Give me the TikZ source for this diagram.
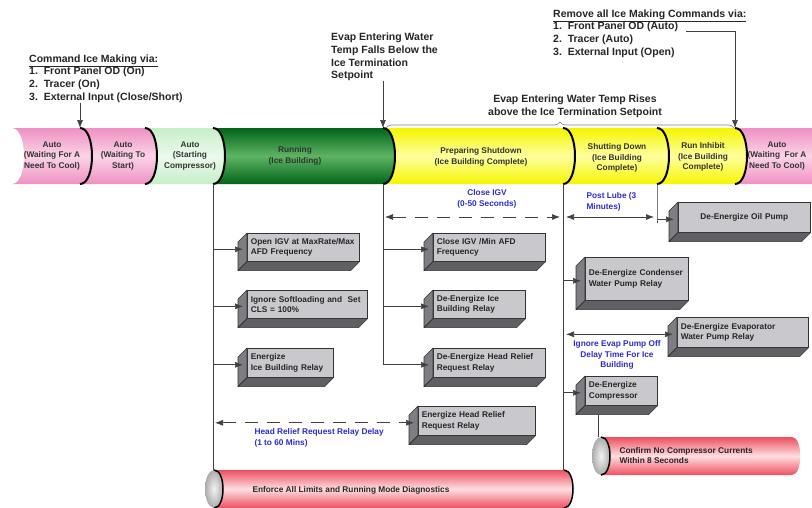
\documentclass[tikz,border=0pt]{standalone}
\usepackage{fontspec}
\setmainfont{Liberation Sans}
\usetikzlibrary{arrows.meta,decorations.pathreplacing}

\definecolor{pinkedge}{RGB}{238,145,195}
\definecolor{pinkmid}{RGB}{251,212,230}
\definecolor{lgreenedge}{RGB}{198,238,200}
\definecolor{lgreenmid}{RGB}{236,250,236}
\definecolor{dgreenedge}{RGB}{0,100,25}
\definecolor{dgreenmid}{RGB}{95,180,100}
\definecolor{yellowedge}{RGB}{245,245,0}
\definecolor{yellowmid}{RGB}{255,255,160}
\definecolor{rededge}{RGB}{236,80,95}
\definecolor{redmid}{RGB}{255,222,226}
\definecolor{facegray}{RGB}{200,200,205}
\definecolor{sidegray}{RGB}{125,125,130}
\definecolor{basegray}{RGB}{95,95,100}
\definecolor{lblblue}{RGB}{45,45,200}

\newcommand\smallbf{\fontsize{8.3}{10.5}\selectfont\bfseries}
\newcommand\notebf{\fontsize{10.5}{12.7}\selectfont\bfseries}

% one piece of the state band, between two dividers
\newcommand\bandpiece[4]{%
  \shade[top color=#3, bottom color=#3, middle color=#4]
    (#1,128) -- (#2,128) .. controls (#2+16,128) and (#2+16,184) .. (#2,184)
    -- (#1,184) .. controls (#1+16,184) and (#1+16,128) .. (#1,128) -- cycle;}

% gray side and bottom of a box
\newcommand\boxdepth[1]{%
  \filldraw[fill=sidegray, draw=black!80, line width=0.6pt, line join=round]
    (#1.north west) -- ++(-9,9) -- ([shift={(-9,9)}]#1.south west) -- (#1.south west) -- cycle;
  \filldraw[fill=basegray, draw=black!80, line width=0.6pt, line join=round]
    (#1.south west) -- ++(-9,9) -- ([shift={(-9,9)}]#1.south east) -- (#1.south east) -- cycle;}

% red pipe with an open gray end on the left
\newcommand\pipebody[4]{%
  \shade[top color=rededge, bottom color=rededge, middle color=redmid]
    (#1,#3) -- (#2,#3) .. controls (#2+11,#3) and (#2+11,#4) .. (#2,#4) -- (#1,#4) -- cycle;
  \shade[inner color=gray!10, outer color=gray!65] (#1,{(#3+#4)/2}) ellipse [x radius=9, y radius={(#4-#3)/2}];
  \draw[line width=1.5pt] (#1,#3) .. controls (#1+12,#3) and (#1+12,#4) .. (#1,#4);}

\begin{document}
\begin{tikzpicture}[x=1pt, y=-1pt,
  conn/.style={draw=black!75, line width=0.7pt},
  arr/.style={conn, -{Latex[length=8pt,width=6pt]}},
  darr/.style={conn, {Latex[length=8pt,width=6pt]}-{Latex[length=8pt,width=6pt]}},
  dasharr/.style={darr, dash pattern=on 13pt off 9pt},
  boxface/.style={draw=black!80, line width=0.6pt, fill=facegray, anchor=north west,
    inner xsep=3.5pt, inner ysep=1pt, align=left, font=\smallbf, text=black!85},
  bandtext/.style={font=\smallbf, align=center, text=black!80},
  bluetext/.style={font=\smallbf, text=lblblue},
  note/.style={font=\notebf, text=black!85, align=left, inner sep=0pt},
  divider/.style={line width=2pt, black}]

\fill[white] (0,0) rectangle (812,507);
\useasboundingbox (0,0) rectangle (812,507);

% state band
\bandpiece{12}{80}{pinkedge}{pinkmid}
\bandpiece{80}{145}{pinkedge}{pinkmid}
\bandpiece{145}{213}{lgreenedge}{lgreenmid}
\bandpiece{213}{383}{dgreenedge}{dgreenmid}
\bandpiece{383}{563}{yellowedge}{yellowmid}
\bandpiece{563}{657}{yellowedge}{yellowmid}
\bandpiece{657}{735}{yellowedge}{yellowmid}
\bandpiece{735}{840}{pinkedge}{pinkmid}
\foreach \x [count=\i] in {80,145,213,383,563,657,735} {
  \draw[divider] (\x,128) .. controls (\x+16,128) and (\x+16,184) .. (\x,184);
  \coordinate (top\i) at (\x,128);
  \coordinate (bot\i) at (\x,184);
}

\node[bandtext] (autowait) at (52,156) {Auto\\(Waiting For A\\Need To Cool)};
\node[bandtext] (autostart) at (123,156) {Auto\\(Waiting To\\Start)};
\node[bandtext] (autocomp) at (190,156) {Auto\\(Starting\\Compressor)};
\node[bandtext] (running) at (295,156) {Running\\(Ice Building)};
\node[bandtext] (prepshut) at (481,157) {Preparing Shutdown\\(Ice Building Complete)};
\node[bandtext] (shutdown) at (617,158) {Shutting Down\\(Ice Building\\Complete)};
\node[bandtext] (inhibit) at (703,157) {Run Inhibit\\(Ice Building\\Complete)};
\node[bandtext] (autoagain) at (777,156) {Auto\\(Waiting\ \ For A\\Need To Cool)};

% notes above the band
\node[note, anchor=west] (cmdvia) at (29,78.5) {\underline{Command Ice Making via:}\\1.\ \ Front Panel OD (On)\\2.\ \ Tracer (On)\\3.\ \ External Input (Close/Short)};
\node[note, anchor=west] (tempfalls) at (331,57) {Evap Entering Water\\Temp Falls Below the\\Ice Termination\\Setpoint};
\node[note, anchor=west] (removevia) at (553,33.5) {\underline{Remove all Ice Making Commands via:}\\1.\ \ Front Panel OD (Auto)\\2.\ \ Tracer (Auto)\\3.\ \ External Input (Open)};
\node[note, align=center] (temprises) at (575,106.5) {Evap Entering Water Temp Rises\\above the Ice Termination Setpoint};

\draw[arr] (top1 |- cmdvia.south) -- (top1);
\draw[arr] (top4 |- tempfalls.south) -- (top4);
\coordinate (removeend) at (686,31);
\draw[arr] (removeend) -- (top7 |- removeend) -- (top7);
\draw[gray, line width=0.6pt, decorate, decoration={brace, amplitude=6pt}] ([xshift=3pt]top4) -- ([xshift=-1pt]top7);

% boxes
\node[boxface, text width=105pt, minimum height=28pt] (openigv) at (247,233) {Open IGV at MaxRate/Max\\AFD Frequency};
\node[boxface, text width=113pt, minimum height=28pt] (softload) at (247,290) {Ignore Softloading and\ \ Set\\CLS = 100\%};
\node[boxface, text width=79pt, minimum height=29pt] (energice) at (247,348) {Energize\\Ice Building Relay};
\node[boxface, text width=105pt, minimum height=28pt] (closeigv) at (433,233) {Close IGV /Min AFD\\Frequency};
\node[boxface, text width=85pt, minimum height=28pt] (deenice) at (433,290) {De-Energize Ice\\Building Relay};
\node[boxface, text width=105pt, minimum height=29pt] (deenhead) at (433,348) {De-Energize Head Relief\\Request Relay};
\node[boxface, text width=110pt, minimum height=29pt] (enhead) at (418,406) {Energize Head Relief\\Request Relay};
\node[boxface, text width=125pt, minimum height=30pt, align=center] (oil) at (678,202) {De-Energize Oil Pump};
\node[boxface, text width=96pt, minimum height=43pt] (condenser) at (585,257) {De-Energize Condenser\\Water Pump Relay};
\node[boxface, text width=124pt, minimum height=30pt] (evap) at (677,317) {De-Energize Evaporator\\Water Pump Relay};
\node[boxface, text width=65pt, minimum height=29pt] (compressor) at (585,376) {De-Energize\\Compressor};
\foreach \b in {openigv,softload,energice,closeigv,deenice,deenhead,enhead,oil,condenser,evap,compressor} {
  \boxdepth{\b}
  \path ([shift={(-4,2)}]\b.west) coordinate (\b-in);
}

% lines down from the band
\coordinate (enfleft) at (213,470);
\coordinate (enfright) at (563,470);
\coordinate (delayrow) at (0,217);
\draw[conn] (bot3) -- (enfleft);
\draw[conn] (bot5) -- (enfright);
\foreach \b in {openigv,softload,energice} \draw[arr] (bot3 |- \b-in) -- (\b-in);
\foreach \b in {closeigv,deenice} \draw[arr] (bot4 |- \b-in) -- (\b-in);
\draw[arr] (bot4) -- (bot4 |- deenhead-in) -- (deenhead-in);
\foreach \b in {condenser,compressor} \draw[arr] (bot5 |- \b-in) -- (\b-in);
\draw[darr, shorten <=3pt] (bot5 |- evap-in) -- (evap-in);
\draw[dasharr, shorten <=2pt] (bot3 |- enhead-in) -- (enhead-in);
\draw[dasharr, shorten <=2pt, shorten >=3pt] (bot4 |- delayrow) -- (bot5 |- delayrow);
\draw[darr, shorten <=3pt, shorten >=3pt] (bot5 |- delayrow) -- (bot6 |- delayrow);
\draw[conn] (bot6) -- (bot6 |- oil-in) -- ++(0,4);
\draw[arr] (bot6 |- oil-in) -- (oil-in);

\node[bluetext, align=center] (igvtime) at (487,199) {Close IGV\\(0-50 Seconds)};
\node[bluetext, align=left, anchor=west] (lubetime) at (583,202) {Post Lube (3\\Minutes)};
\node[bluetext, align=center] (evapdelay) at (617,355) {Ignore Evap Pump Off\\Delay Time For Ice\\Building};
\node[bluetext, align=left, anchor=west] (headdelay) at (251,438) {Head Relief Request Relay Delay\\(1 to 60 Mins)};

% pipes at the bottom
\pipebody{214}{564}{470}{508}
\draw[line width=1.5pt] (564,470) .. controls (576,470) and (576,508) .. (564,508);
\node[font=\smallbf, text=black!85, anchor=west] (enforce) at (249,490) {Enforce All Limits and Running Mode Diagnostics};
\pipebody{601}{792}{437}{475}
\node[font=\smallbf, text=black!85, anchor=west, align=left] (confirm) at (616,455.5) {Confirm No Compressor Currents\\Within 8 Seconds};
\coordinate (confirmtop) at (598,437);
\path ([yshift=-9pt]compressor.south) coordinate (compbase);
\draw[conn] (compbase -| confirmtop) -- (confirmtop);
\end{tikzpicture}
\end{document}
